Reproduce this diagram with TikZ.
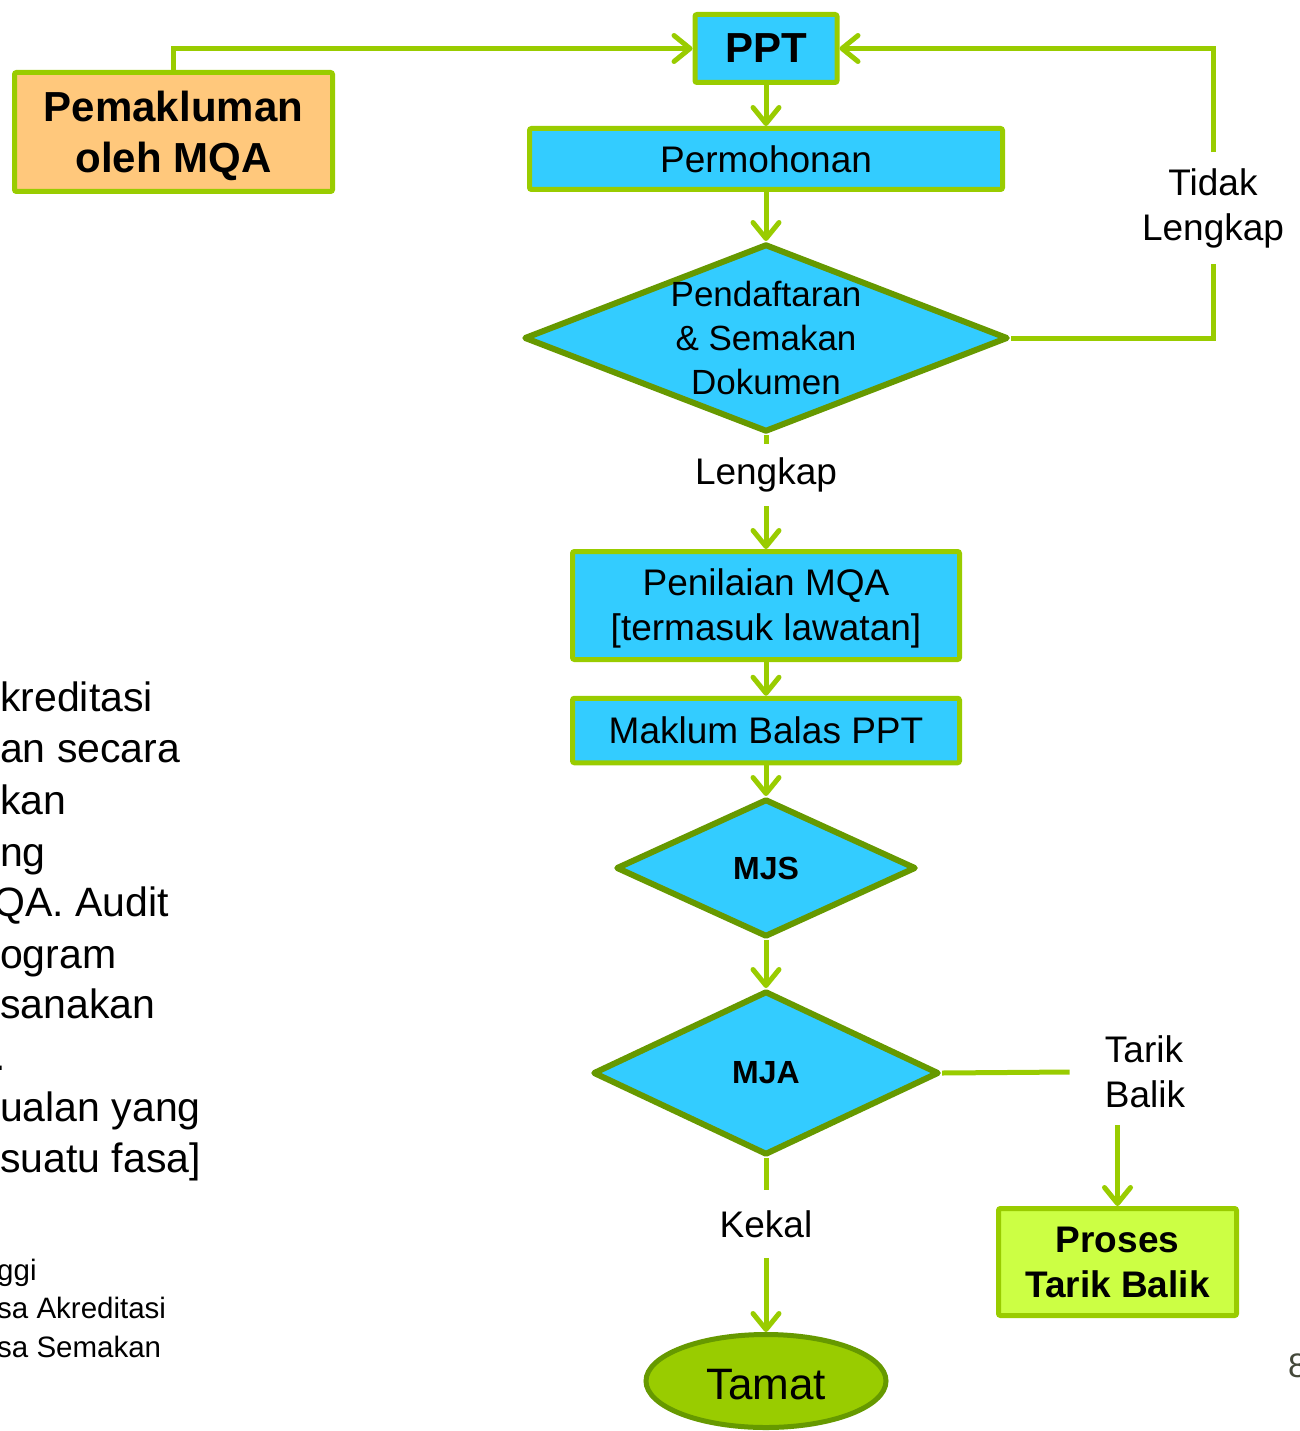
\documentclass[tikz,border=0pt]{standalone}
\usepackage{fontspec}
\setmainfont{Liberation Sans}
\usetikzlibrary{shapes.geometric,arrows.meta}

\definecolor{biru}{HTML}{33CCFF}
\definecolor{hijau}{HTML}{99CC00}
\definecolor{hijaugelap}{HTML}{669900}
\definecolor{jingga}{HTML}{FFC87C}
\definecolor{limau}{HTML}{CCFF44}
\definecolor{nombor}{HTML}{44483A}

\newcommand\sedang{\fontsize{37}{45}\selectfont}
\newcommand\tebal{\bfseries\fontsize{37}{45}\selectfont}

\begin{document}
\begin{tikzpicture}[x=1pt,y=-1pt,
	kotak/.style={draw=hijau,line width=5pt,fill=biru,rounded corners=2pt,align=center,inner sep=0pt,font=\sedang},
	keputusan/.style={diamond,draw=hijaugelap,line width=6pt,line join=round,fill=biru,inner sep=0pt,aspect=2},
	teks/.style={align=center,inner xsep=4pt,font=\sedang},
	aliran/.style={draw=hijau,line width=5pt},
	panah/.style={aliran,-{Straight Barb[length=16pt,width=26pt,round]}},
	potong/.style={anchor=base west,inner sep=0pt,font=\fontsize{41}{48}\selectfont}]
	\useasboundingbox (0,0) rectangle (1299,1431);
	
	% carta aliran
	\node[kotak,minimum width=142pt,minimum height=68pt,font=\bfseries\fontsize{42}{50}\selectfont] (ppt) at (766,48.5) {PPT};
	\node[kotak,fill=jingga,minimum width=318pt,minimum height=119pt,text height=89pt,font=\bfseries\fontsize{42}{51}\selectfont] (makluman) at (173.5,132) {Pemakluman\\oleh MQA};
	\node[kotak,minimum width=473pt,minimum height=61pt] (mohon) at (766,159) {Permohonan};
	\node[keputusan,minimum width=484pt,minimum height=188pt,
		label={[align=center,font=\fontsize{35}{44}\selectfont]center:Pendaftaran\\\& Semakan\\Dokumen}] (daftar) at (766,338) {};
	\node[teks,inner ysep=16pt] (tidak) at (1213,208) {Tidak\\Lengkap};
	\node[teks,inner ysep=14pt] (lengkap) at (766,475) {Lengkap};
	\node[kotak,minimum width=387pt,minimum height=108pt,text height=78.5pt] (nilai) at (766,605.5) {Penilaian MQA\\{[}termasuk lawatan{]}};
	\node[kotak,minimum width=387pt,minimum height=64.5pt] (balas) at (766,730.5) {Maklum Balas PPT};
	\node[keputusan,minimum width=300pt,minimum height=138pt,font=\bfseries\fontsize{32}{36}\selectfont] (mjs) at (766,868) {MJS};
	\node[keputusan,minimum width=346pt,minimum height=164pt,font=\bfseries\fontsize{32}{36}\selectfont] (mja) at (766,1073) {MJA};
	\node[teks,align=left,inner xsep=35pt,inner ysep=17pt] (tarik) at (1145,1072) {Tarik\\Balik};
	\node[kotak,fill=limau,minimum width=238pt,minimum height=107pt,font=\tebal] (tarikbalik) at (1117.5,1262) {Proses\\Tarik Balik};
	\node[teks,inner ysep=20pt] (kekal) at (766,1224) {Kekal};
	\node[ellipse,draw=hijaugelap,line width=5pt,fill=hijau,minimum width=240pt,minimum height=93pt,inner sep=0pt,text height=37pt,font=\fontsize{44}{50}\selectfont] (tamat) at (766,1381) {Tamat};
	
	\draw[panah] (makluman.north) |- (ppt.west);
	\draw[panah] (ppt) -- (mohon);
	\draw[panah] (mohon) -- (daftar.north);
	\draw[aliran] (daftar.east) -| (tidak.south);
	\draw[panah] (tidak.north) |- (ppt.east);
	\draw[aliran] (daftar.south) -- (lengkap.north);
	\draw[panah] (lengkap.south) -- (nilai.north);
	\draw[panah] (nilai) -- (balas);
	\draw[panah] (balas) -- (mjs.north);
	\draw[panah] (mjs.south) -- (mja.north);
	\draw[aliran] (mja.east) -- (tarik.west);
	\draw[panah] (tarik.south -| tarikbalik.north) -- (tarikbalik.north);
	\draw[aliran] (mja.south) -- (kekal.north);
	\draw[panah] (kekal.south) -- (tamat.north);
	
	% teks slaid yang terpotong di kiri
	\foreach \y/\t in {711/kreditasi,762/an secara,814/kan,866/ng,968/ogram,1018/sanakan,1121/ualan yang,1172/suatu fasa]}
		\node[potong] (kiri\y) at (0,\y) {\t};
	\node[potong] (kiri916) at (-7,916) {QA. Audit};
	\node[potong] (titik) at (-6,1070) {.};
	\foreach \y/\t in {1280/ggi,1318/sa Akreditasi,1357/sa Semakan}
		\node[potong,font=\fontsize{29.5}{34}\selectfont] (kecil\y) at (-3,\y) {\t};
	\node[potong,text=nombor,font=\fontsize{34}{40}\selectfont] (muka) at (1288,1377) {8};
\end{tikzpicture}
\end{document}
